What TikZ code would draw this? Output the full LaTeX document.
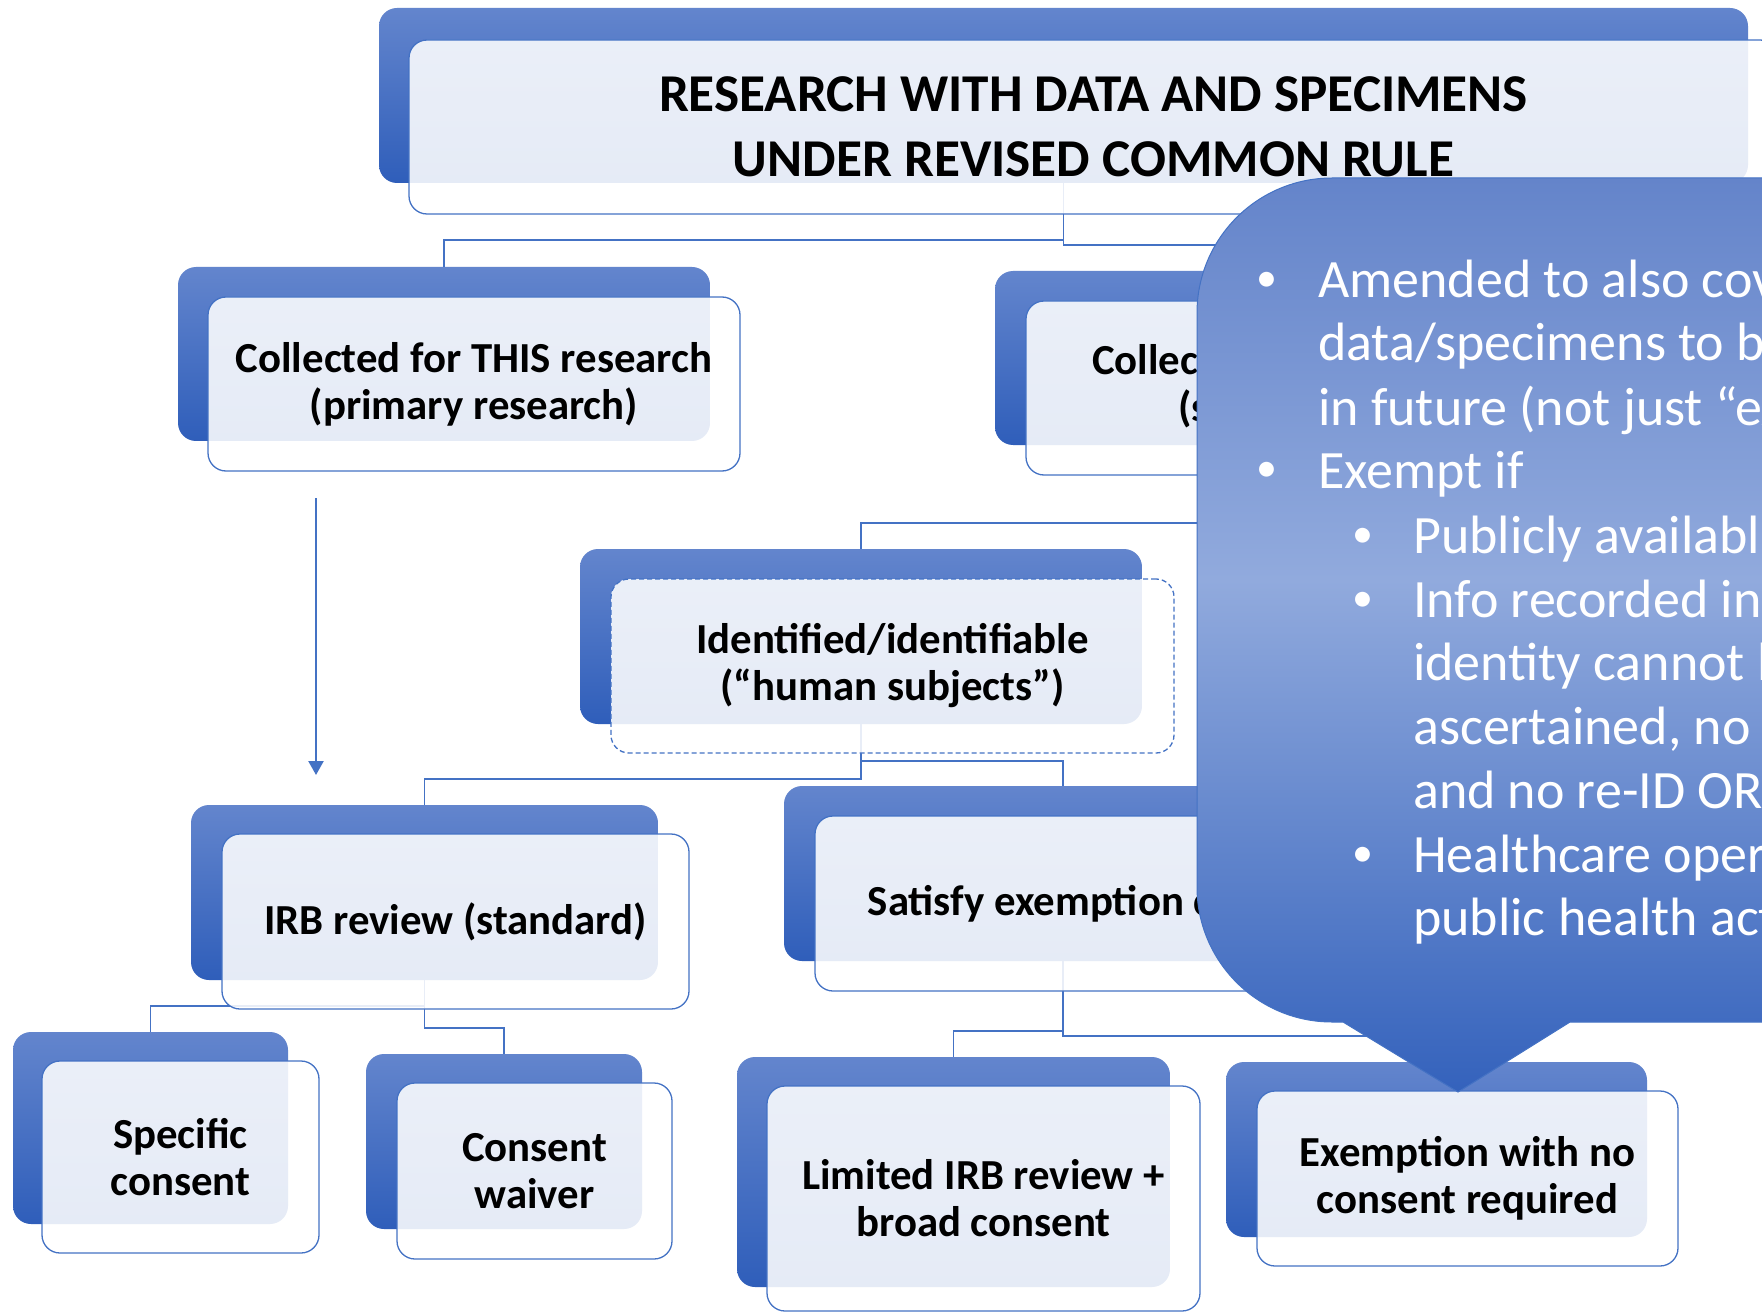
\documentclass[tikz,border=0pt]{standalone}
\usepackage{fontspec}
\setmainfont{Carlito}
\usetikzlibrary{arrows.meta}
\definecolor{acc}{RGB}{68,114,196}
\definecolor{bT}{RGB}{99,133,205}
\definecolor{bB}{RGB}{47,94,186}
\definecolor{cT}{RGB}{100,132,202}
\definecolor{cM}{RGB}{145,170,221}
\definecolor{cB}{RGB}{52,98,188}
\pgfdeclareverticalshading{backshade}{100bp}{color(0bp)=(bB); color(25bp)=(bB); color(75bp)=(bT); color(100bp)=(bT)}
\pgfdeclareverticalshading{callshade}{100bp}{color(0bp)=(cB); color(25bp)=(cB); color(53bp)=(cM); color(75bp)=(cT); color(100bp)=(cT)}
\begin{document}
\begin{tikzpicture}[x=1pt,y=-1pt,
  bk/.style={shade, shading=backshade, rounded corners=18pt, anchor=north west, inner sep=0pt, outer sep=0pt},
  fr/.style={draw=acc, line width=1.3pt, fill=white, fill opacity=0.88, text opacity=1, rounded corners=18pt, anchor=north west, inner sep=0pt, outer sep=0pt, align=center, font=\bfseries\fontsize{42.8}{47}\selectfont},
  conn/.style={draw=acc, line width=1.6pt},
  boxtext/.style={inner sep=0pt, anchor=base west, font=\bfseries\fontsize{42.8}{47}\selectfont},
  calltext/.style={text=white, inner sep=0pt, anchor=base west, font=\fontsize{54}{64}\selectfont},
  callbullet/.style={text=white, inner sep=0pt, anchor=base west, font=\fontsize{42}{50}\selectfont},
  callout/.style={shade, shading=callshade, draw=acc, line width=1pt}]
\useasboundingbox (0,0) rectangle (1762,1313);
\clip (0,0) rectangle (1762,1313);
\fill[white] (0,0) rectangle (1762,1313);
% back boxes
\node[bk, minimum width=1369pt, minimum height=175pt] (titleB) at (379,8) {};
\node[bk, minimum width=532pt, minimum height=174pt] (col1B) at (178,267) {};
\node[bk, minimum width=532pt, minimum height=174pt] (col2B) at (995,271) {};
\node[bk, minimum width=562pt, minimum height=175pt] (idB) at (580,549) {};
\node[bk, minimum width=467pt, minimum height=175pt] (irbB) at (191,805) {};
\node[bk, minimum width=558pt, minimum height=175pt] (satB) at (784,786) {};
\node[bk, minimum width=275pt, minimum height=192pt] (specB) at (13,1032) {};
\node[bk, minimum width=276pt, minimum height=175pt] (waivB) at (366,1054) {};
\node[bk, minimum width=433pt, minimum height=230pt] (limB) at (737,1057) {};
\node[bk, minimum width=421pt, minimum height=175pt] (exB) at (1226,1062) {};
% connectors
\draw[conn] (titleB.south) -- ++(0,57) -| (col1B.north);
\draw[conn] (titleB.south) -- ++(0,62) -| (col2B.north);
\draw[conn] (col2B.south) -- ++(0,78) -| (idB.north);
\draw[conn] (idB.south) -- ++(0,55) -| (irbB.north);
\draw[conn] (idB.south) -- ++(0,37) -| (satB.north);
\draw[conn] (irbB.south) -- ++(0,26) -| (specB.north);
\draw[conn] (irbB.south) -- ++(0,48) -| (waivB.north);
\draw[conn] (satB.south) -- ++(0,70) -| (limB.north);
\draw[conn] (satB.south) -- ++(0,75) -| (exB.north);
\coordinate (aS) at (316,498);
\coordinate (aE) at (316,775);
\draw[conn, line width=2.4pt, -{Triangle[width=15pt,length=14pt]}] (aS) -- (aE);
% front boxes
\node[fr, minimum width=1369pt, minimum height=174pt, font=\bfseries\fontsize{53.2}{65}\selectfont] (title) at (409,40) {RESEARCH WITH DATA AND SPECIMENS\\UNDER REVISED COMMON RULE};
\node[fr, minimum width=532pt, minimum height=174pt] (col1) at (208,297) {Collected for THIS research\\(primary research)};
\node[fr, minimum width=532pt, minimum height=174pt] (col2) at (1026,301) {};
\node[boxtext] (col2a) at (1092,375) {Collected for OTHER purposes};
\node[boxtext] (col2b) at (1178,422) {(secondary research)};
\node[fr, dash pattern=on 5pt off 3pt, minimum width=563pt, minimum height=174pt] (id) at (611,579) {Identified/identifiable\\(“human subjects”)};
\node[fr, minimum width=467pt, minimum height=175pt] (irb) at (222,834) {IRB review (standard)};
\node[fr, minimum width=558pt, minimum height=175pt] (sat) at (815,816) {Satisfy exemption criteria};
\node[fr, minimum width=277pt, minimum height=192pt] (spec) at (42,1061) {Specific\\consent};
\node[fr, minimum width=275pt, minimum height=176pt] (waiv) at (397,1083) {Consent\\waiver};
\node[fr, minimum width=433pt, minimum height=225pt] (lim) at (767,1086) {Limited IRB review +\\broad consent};
\node[fr, minimum width=421pt, minimum height=175pt] (ex) at (1257,1091) {Exemption with no\\consent required};
% callout
\path[callout] (1458,1092) -- (1343,1022) -- (1332,1022) .. controls (1257.5,1022) and (1197,961.5) .. (1197,887) -- (1197,313) .. controls (1197,238.5) and (1257.5,178) .. (1332,178) -- (1900,178) -- (1900,1022) -- (1570,1022) -- cycle;
\foreach \yy/\xx [count=\i] in {298/1256, 488/1256, 553/1352, 617/1352, 872/1352}
  \node[callbullet] (cb\i) at (\xx,\yy-6) {•};
\foreach \yy/\xx/\tt [count=\i] in {298/1318/{Amended to also cover}, 361/1318/{data/specimens to be}, 425/1318/{in future (not just “existing”)}, 488/1318/{Exempt if}, 553/1413/{Publicly available}, 617/1413/{Info recorded in}, 680/1413/{identity cannot be}, 744/1413/{ascertained, no}, 808/1413/{and no re-ID OR}, 872/1413/{Healthcare operations}, 935/1413/{public health activities}}
  \node[calltext] (cl\i) at (\xx,\yy) {\tt};
\end{tikzpicture}
\end{document}
